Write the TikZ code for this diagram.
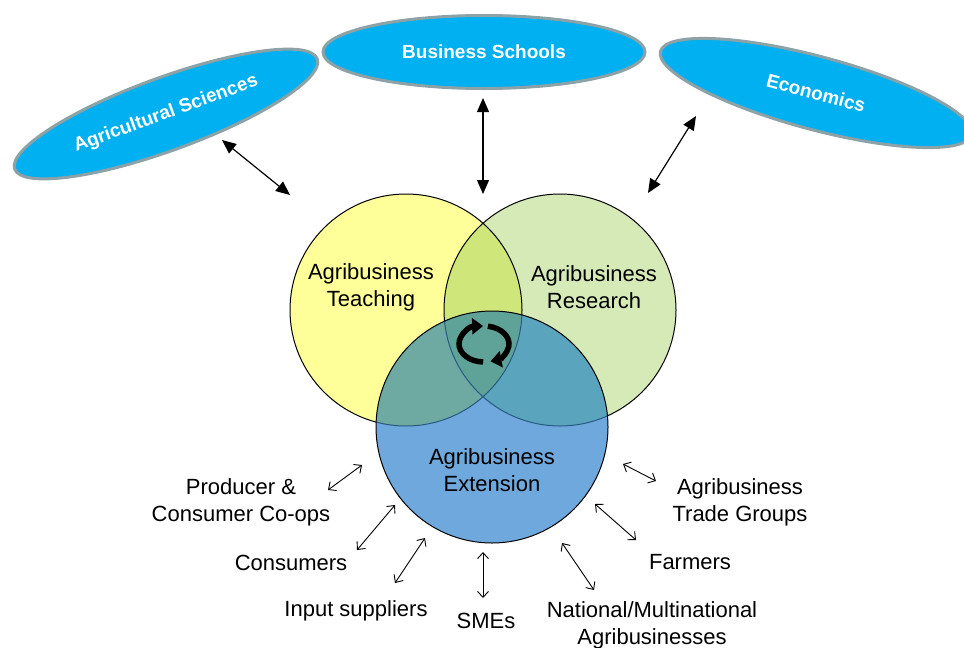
\documentclass[tikz,border=0pt]{standalone}
\usepackage{fontspec}
\setmainfont{Liberation Sans}
\usetikzlibrary{shapes.geometric, arrows.meta, positioning}

\definecolor{schoolfill}{RGB}{0,176,240}
\definecolor{schoolline}{RGB}{140,162,166}
\definecolor{teachfill}{RGB}{255,255,153}
\definecolor{resfill}{RGB}{214,234,184}
\definecolor{extfill}{RGB}{111,168,220}
\definecolor{tgfill}{RGB}{206,230,122}
\definecolor{tefill}{RGB}{110,170,162}
\definecolor{refill}{RGB}{90,164,190}
\definecolor{allfill}{RGB}{95,163,152}
\definecolor{innerline}{RGB}{40,90,130}

\begin{document}
\begin{tikzpicture}[x=1pt, y=-1pt]
    \tikzstyle{school}     = [ellipse, draw=schoolline, line width=3pt, fill=schoolfill, text=white, font=\bfseries\fontsize{19}{23}\selectfont, minimum width=322pt, minimum height=73pt]
    \tikzstyle{circletext} = [align=center, inner sep=0pt, font=\fontsize{22}{27}\selectfont]
    \tikzstyle{partner}    = [align=center, inner sep=0pt, font=\fontsize{22}{27}\selectfont]
    \tikzstyle{bigarrow}   = [line width=1.2pt, {Triangle[length=14pt,width=12pt]}-{Triangle[length=14pt,width=12pt]}]
    \tikzstyle{smallarrow} = [line width=0.9pt, {Straight Barb[length=6pt,width=11pt]}-{Straight Barb[length=6pt,width=11pt]}]
    \tikzstyle{turn}       = [line width=5.5pt, -{Triangle[length=11pt,width=16pt]}]

    \useasboundingbox (0,0) rectangle (964,648);

    % Circle centres
    \coordinate (teachc) at (406,310);
    \coordinate (resc)   at (560,310);
    \coordinate (extc)   at (492,427);

    % Teaching and Research
    \fill[teachfill] (teachc) circle[radius=116pt];
    \fill[resfill]   (resc)   circle[radius=116pt];
    \begin{scope}
        \clip (teachc) circle[radius=116pt];
        \fill[tgfill] (resc) circle[radius=116pt];
    \end{scope}
    \draw[line width=1pt] (teachc) circle[radius=116pt] (resc) circle[radius=116pt];

    % Extension
    \fill[extfill] (extc) circle[radius=116pt];
    \begin{scope}
        \clip (extc) circle[radius=116pt];
        \fill[tefill] (teachc) circle[radius=116pt];
        \fill[refill] (resc)   circle[radius=116pt];
        \clip (teachc) circle[radius=116pt];
        \fill[allfill] (resc) circle[radius=116pt];
    \end{scope}
    \begin{scope}
        \clip (extc) circle[radius=116pt];
        \draw[innerline, line width=1pt] (teachc) circle[radius=116pt] (resc) circle[radius=116pt];
    \end{scope}
    \draw[line width=1pt] (extc) circle[radius=116pt];

    % Circle labels
    \node [circletext] (teach) at (371,287) {Agribusiness\\Teaching};
    \node [circletext] (res)   at (594,287) {Agribusiness\\Research};
    \node [circletext] (ext)   at (492,470) {Agribusiness\\Extension};

    % Cycle in the middle
    \coordinate (cyc) at (484,344);
    \draw [turn] ([shift={(-92:25pt and 18pt)}]cyc) arc[start angle=-92, end angle=-268, x radius=25pt, y radius=18pt];
    \draw [turn] ([shift={(81:25pt and 18pt)}]cyc) arc[start angle=81, end angle=-75, x radius=25pt, y radius=18pt];

    % Schools
    \node [school, rotate=20]  (agsci)   at (166,114) {Agricultural Sciences};
    \node [school]             (bschool) at (484,52)  {Business Schools};
    \node [school, rotate=-15] (econ)    at (816,93)  {Economics};

    % Partners
    \node [partner] (coops)     at (241,502) {Producer \&\\Consumer Co-ops};
    \node [partner] (consumers) at (291,563) {Consumers};
    \node [partner] (inputs)    at (356,611) {Input suppliers};
    \node [partner] (smes)      at (486,621) {SMEs};
    \node [partner] (national)  at (652,625) {National/Multinational\\Agribusinesses};
    \node [partner] (farmers)   at (690,562) {Farmers};
    \node [partner] (trade)     at (740,502) {Agribusiness\\Trade Groups};

    % Arrow ends
    \coordinate (agsciA)     at (222,140);
    \coordinate (agsciB)     at (290,195);
    \coordinate (bschoolA)   at (483,98);
    \coordinate (bschoolB)   at (483,194);
    \coordinate (econA)      at (696,116);
    \coordinate (econB)      at (648,193);
    \coordinate (coopsA)     at (328,490);
    \coordinate (coopsB)     at (362,465);
    \coordinate (consumersA) at (357,550);
    \coordinate (consumersB) at (395,505);
    \coordinate (inputsA)    at (395,583);
    \coordinate (inputsB)    at (425,538);
    \coordinate (smesA)      at (483,598);
    \coordinate (smesB)      at (483,552);
    \coordinate (nationalA)  at (594,590);
    \coordinate (nationalB)  at (562,543);
    \coordinate (farmersA)   at (636,540);
    \coordinate (farmersB)   at (595,504);
    \coordinate (tradeA)     at (656,481);
    \coordinate (tradeB)     at (623,464);

    % Arrows
    \draw [bigarrow]   (agsciA)     -- (agsciB);
    \draw [bigarrow]   (bschoolA)   -- (bschoolB);
    \draw [bigarrow]   (econA)      -- (econB);
    \draw [smallarrow] (coopsA)     -- (coopsB);
    \draw [smallarrow] (consumersA) -- (consumersB);
    \draw [smallarrow] (inputsA)    -- (inputsB);
    \draw [smallarrow] (smesA)      -- (smesB);
    \draw [smallarrow] (nationalA)  -- (nationalB);
    \draw [smallarrow] (farmersA)   -- (farmersB);
    \draw [smallarrow] (tradeA)     -- (tradeB);

\end{tikzpicture}
\end{document}
